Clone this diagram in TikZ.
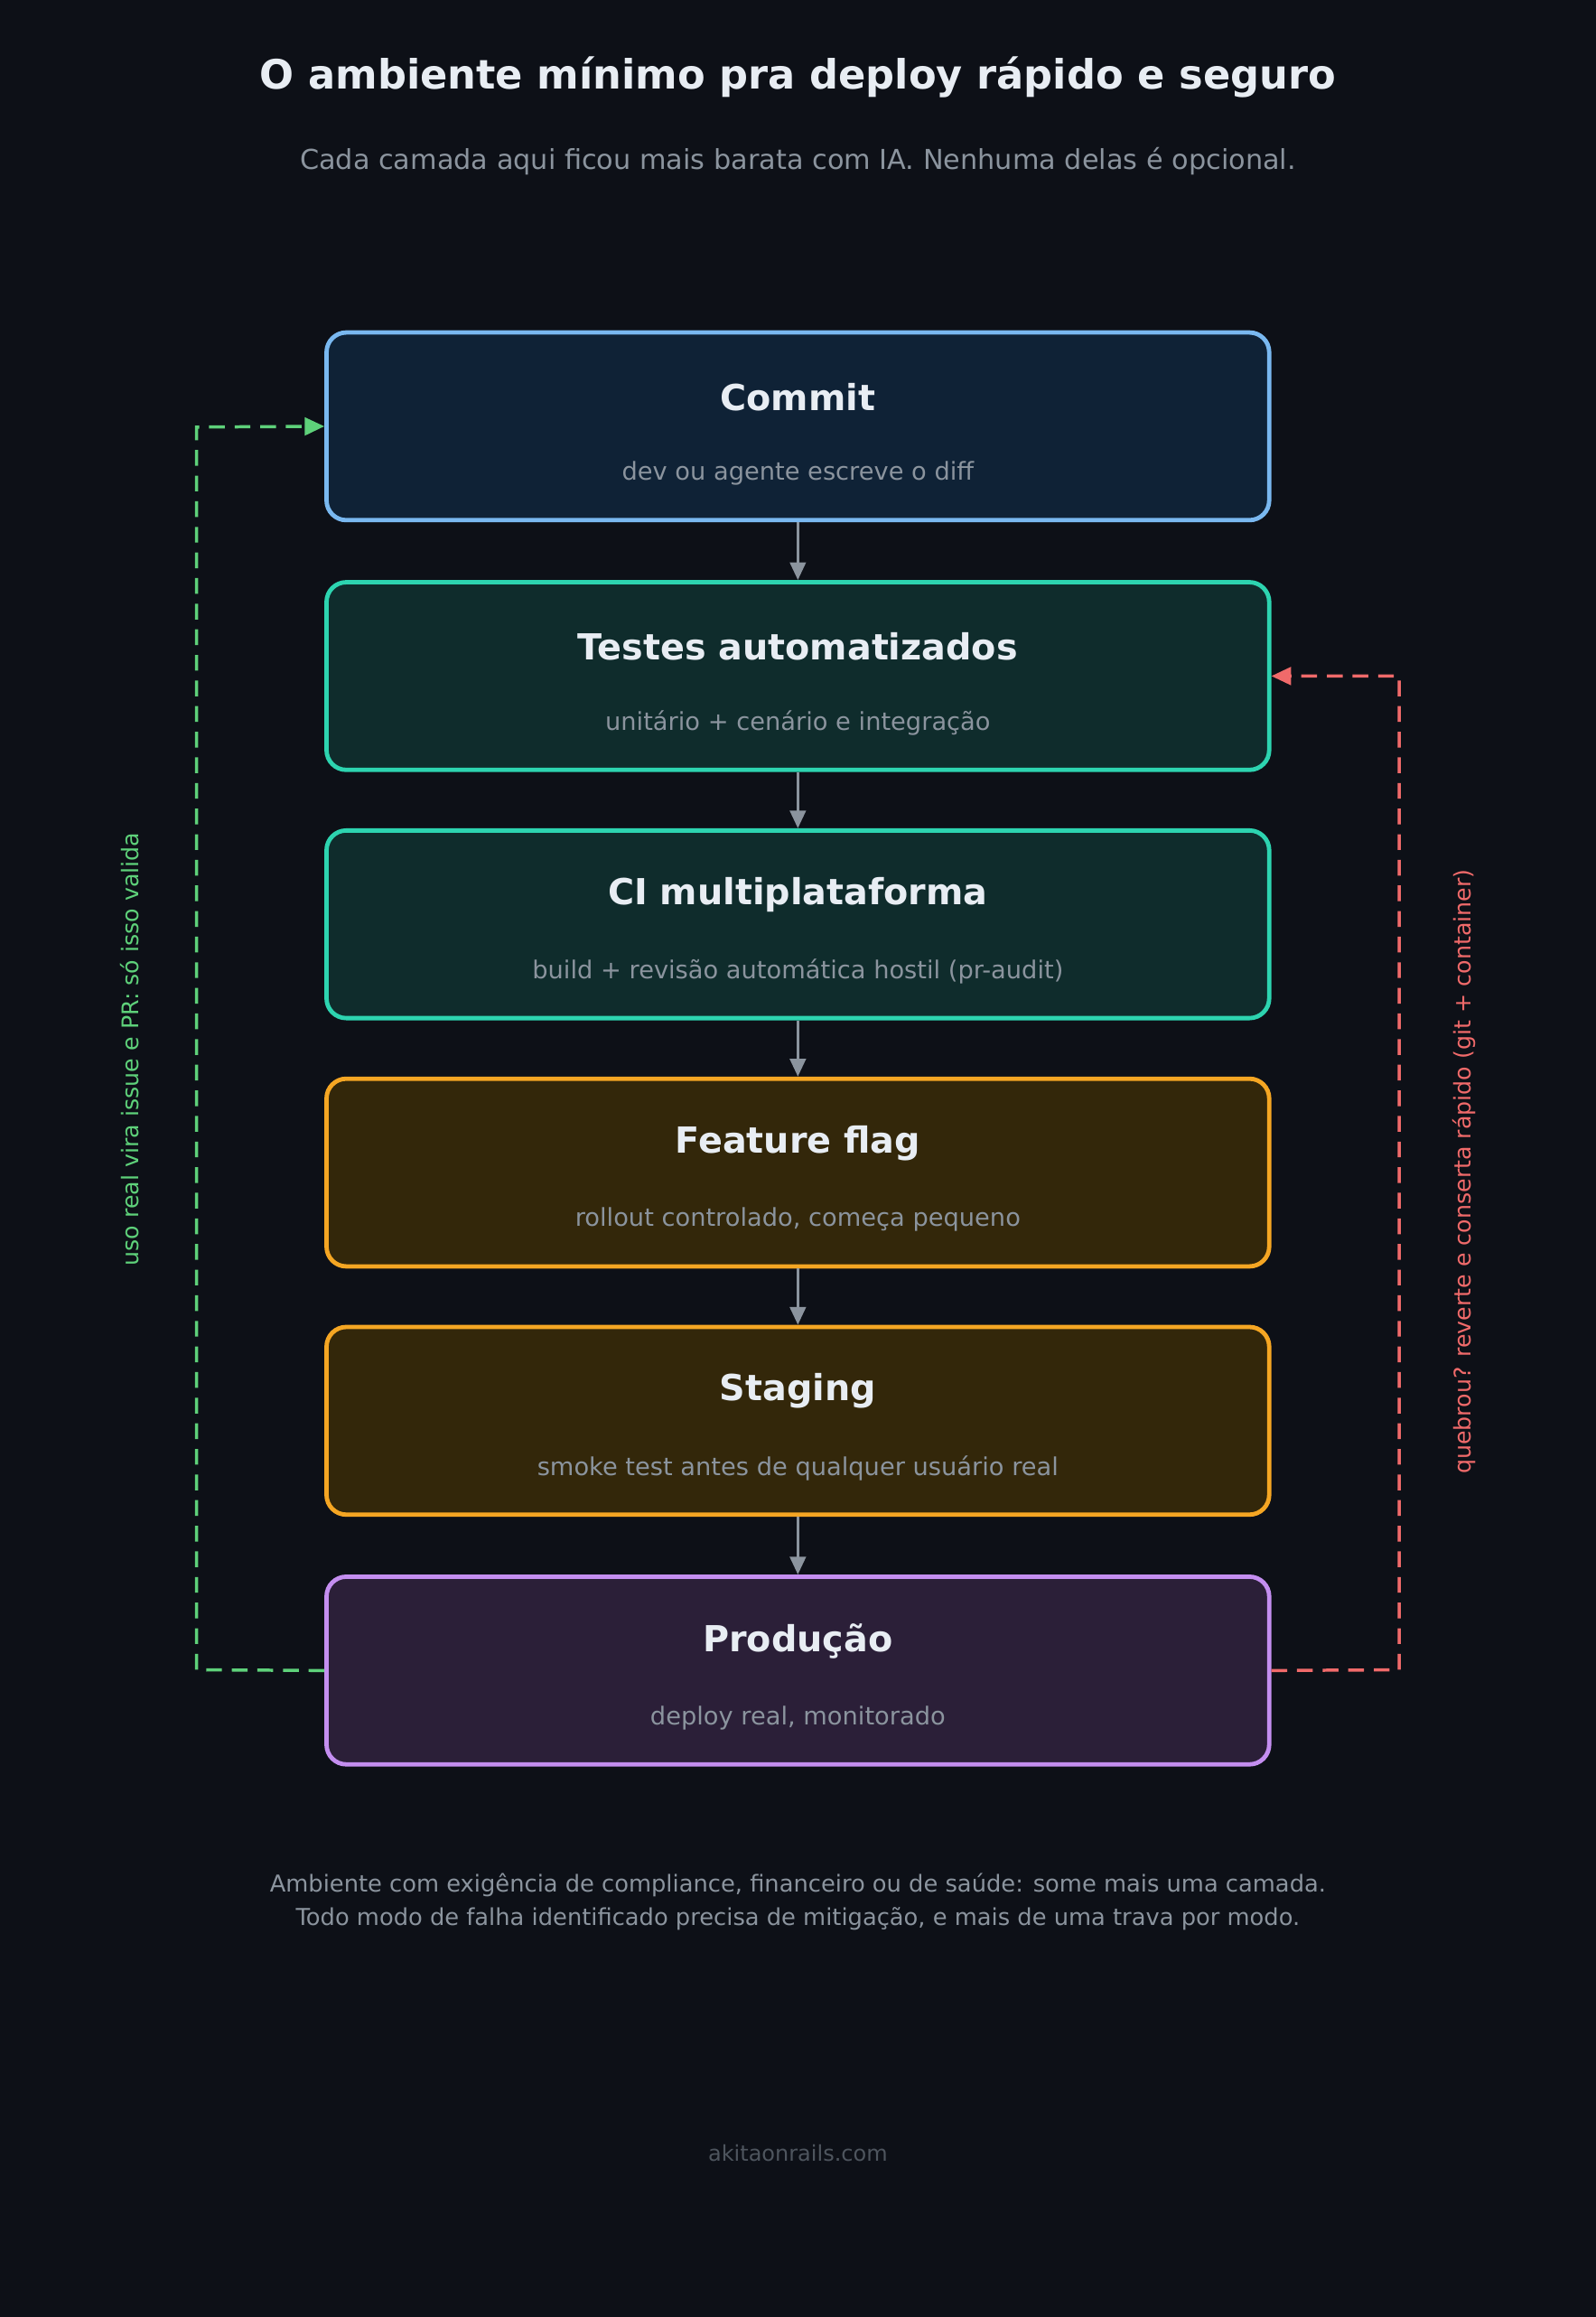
\documentclass[tikz,border=0pt]{standalone}
\usepackage{fontspec}
\setmainfont{DejaVu Sans}
\usetikzlibrary{arrows.meta}
\definecolor{bg}{HTML}{0D1017}
\definecolor{tx}{HTML}{E8EDF3}
\definecolor{sub}{HTML}{8B949E}
\definecolor{bluef}{HTML}{0F2236}\definecolor{blueb}{HTML}{79B8F0}
\definecolor{tealf}{HTML}{0F2C2C}\definecolor{tealb}{HTML}{2DD4B0}
\definecolor{ambf}{HTML}{33270A}\definecolor{ambb}{HTML}{F5A623}
\definecolor{purf}{HTML}{2B1F38}\definecolor{purb}{HTML}{C48EF0}
\definecolor{grn}{HTML}{5ED17A}\definecolor{red}{HTML}{F06A6A}
\definecolor{dim}{HTML}{4E555E}
\begin{document}
\begin{tikzpicture}[x=0.75pt,y=-0.75pt,
 box/.style={draw=#1b,fill=#1f,line width=2.2pt,rounded corners=10pt,minimum width=638*0.75pt,minimum height=127*0.75pt,inner sep=0pt},
 ttl/.style={text=tx,font=\fontsize{18.2}{22}\selectfont\bfseries},
 st/.style={text=sub,font=\fontsize{12.5}{15}\selectfont},
 flow/.style={draw=sub,line width=1.5pt,-{Triangle[length=9pt,width=8pt]}},
 loop/.style={line width=1.6pt,dash pattern=on 8pt off 5pt}]
\fill[bg] (0,0) rectangle (1080,1568);
\node[text=tx,font=\fontsize{20.5}{24}\selectfont\bfseries] (t) at (540,52) {O ambiente mínimo pra deploy rápido e seguro};
\node[text=sub,font=\fontsize{13.9}{16}\selectfont] (s) at (540,109) {Cada camada aqui ficou mais barata com IA. Nenhuma delas é opcional.};
\foreach \n/\y/\c/\a/\b in {c/288.5/blue/Commit/dev ou agente escreve o diff,
 t1/457.5/teal/Testes automatizados/unitário + cenário e integração,
 ci/625.5/teal/CI multiplataforma/build + revisão automática hostil (pr-audit),
 ff/793.5/amb/Feature flag/{rollout controlado, começa pequeno},
 sg/961.5/amb/Staging/smoke test antes de qualquer usuário real,
 p/1130.5/pur/Produção/{deploy real, monitorado}}{
 \node[box=\c] (\n) at (540,\y) {};
 \node[ttl] (\n t) at (540,\y-20) {\a};
 \node[st] (\n s) at (540,\y+32) {\b};
}
\foreach \a/\b in {c/t1,t1/ci,ci/ff,ff/sg,sg/p} \draw[flow] (\a.south) -- (\b.north);
\coordinate (gl) at (133,1130); \coordinate (gt) at (133,289);
\draw[loop,draw=grn,-{Triangle[length=10pt,width=9pt]}] (p.west) -- (gl) -- (gt) -- (c.west);
\coordinate (rl) at (947,1130); \coordinate (rt) at (947,457.5);
\draw[loop,draw=red,-{Triangle[length=10pt,width=9pt]}] (p.east) -- (rl) -- (rt) -- (t1.east);
\node[text=grn,font=\fontsize{11.6}{13}\selectfont,rotate=90] (gl1) at (88,710) {uso real vira issue e PR: só isso valida};
\node[text=red,font=\fontsize{11.6}{13}\selectfont,rotate=90] (rl1) at (991,793) {quebrou? reverte e conserta rápido (git + container)};
\node[text=sub,font=\fontsize{11.8}{17.3}\selectfont,align=center] (f) at (540,1287) {Ambiente com exigência de compliance, financeiro ou de saúde: some mais uma camada.\\Todo modo de falha identificado precisa de mitigação, e mais de uma trava por modo.};
\node[text=dim,font=\fontsize{11}{13}\selectfont] (w) at (540,1457) {akitaonrails.com};
\end{tikzpicture}
\end{document}
